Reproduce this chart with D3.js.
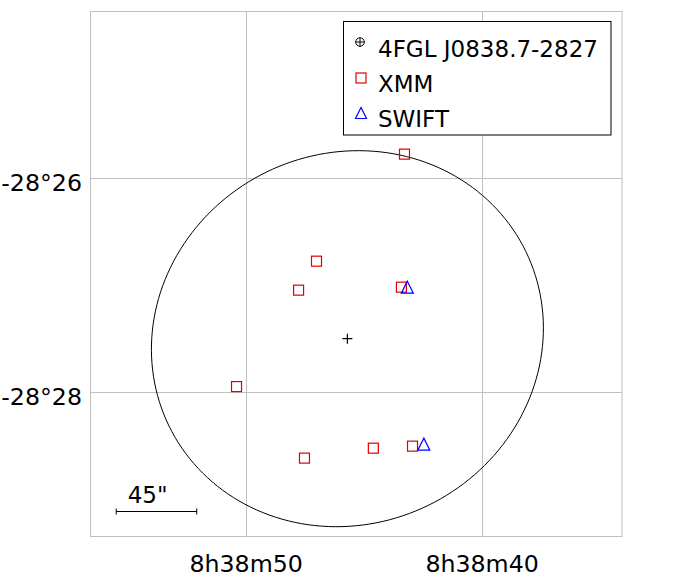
<!DOCTYPE html>
<html>
<head>
<meta charset="utf-8">
<script src="https://cdn.jsdelivr.net/npm/d3@7"></script>
<style>
  body { margin: 0; background: #fff; }
  svg { display: block; font-family: "DejaVu Sans", sans-serif; }
</style>
</head>
<body>
<div id="chart"></div>
<script>
// RA in seconds of 8h38m, Dec in arcmin south of -28 deg
var raDomain = [56.6, 34.07];
var decDomain = [24.44, 29.35];
var raTicks = [50, 40];
var raTickLabels = ["8h38m50", "8h38m40"];
var decTicks = [26, 28];
var decTickLabels = ["-28°26", "-28°28"];

// 4FGL source + 95% ellipse
var fglRa = [45.71];
var fglDec = [27.50];
var ellA = 1.852, ellB = 1.731, ellAngle = 28; // arcmin, deg

var xmmRa  = [47.02, 47.78, 43.42, 50.41, 47.53, 44.61, 42.95, 43.29];
var xmmDec = [26.775, 27.046, 27.018, 27.948, 28.617, 28.524, 28.505, 25.774];

var swiftRa  = [43.17, 42.47];
var swiftDec = [27.018, 28.486];

var legendLabels = ["4FGL J0838.7-2827", "XMM", "SWIFT"];
var scaleLabel = '45"';

var W = 681, H = 581;
var svg = d3.select("#chart").append("svg").attr("width", W).attr("height", H);

var x = d3.scaleLinear().domain(raDomain).range([90.5, 622]);
var y = d3.scaleLinear().domain(decDomain).range([11.5, 536.5]);

var cosd = Math.cos((28 + fglDec[0] / 60) * Math.PI / 180);

// grid
svg.append("g").selectAll("line").data(raTicks).enter().append("line")
  .attr("x1", function(d) { return Math.round(x(d)) + 0.5; })
  .attr("x2", function(d) { return Math.round(x(d)) + 0.5; })
  .attr("y1", y.range()[0]).attr("y2", y.range()[1])
  .attr("stroke", "#c0c0c0");
svg.append("g").selectAll("line").data(decTicks).enter().append("line")
  .attr("y1", function(d) { return Math.round(y(d)) + 0.5; })
  .attr("y2", function(d) { return Math.round(y(d)) + 0.5; })
  .attr("x1", x.range()[0]).attr("x2", x.range()[1])
  .attr("stroke", "#c0c0c0");

svg.append("rect")
  .attr("x", x.range()[0]).attr("y", y.range()[0])
  .attr("width", x.range()[1] - x.range()[0])
  .attr("height", y.range()[1] - y.range()[0])
  .attr("fill", "none").attr("stroke", "#c0c0c0");

// tick labels
svg.append("g").selectAll("text").data(raTicks).enter().append("text")
  .attr("x", function(d) { return x(d); })
  .attr("y", 572)
  .attr("text-anchor", "middle")
  .attr("font-size", 23.7)
  .text(function(d, i) { return raTickLabels[i]; });
svg.append("g").selectAll("text").data(decTicks).enter().append("text")
  .attr("x", 82)
  .attr("y", function(d) { return y(d) + 13; })
  .attr("text-anchor", "end")
  .attr("font-size", 23.7)
  .text(function(d, i) { return decTickLabels[i]; });

// ellipse
var phi = ellAngle * Math.PI / 180;
var ellPts = d3.range(0, 361, 2).map(function(t) {
  t = t * Math.PI / 180;
  var u = ellA * Math.cos(t), v = ellB * Math.sin(t);
  var west = u * Math.cos(phi) - v * Math.sin(phi);
  var north = u * Math.sin(phi) + v * Math.cos(phi);
  return [fglRa[0] - west * 60 / (15 * cosd), fglDec[0] - north];
});
svg.append("path")
  .attr("d", d3.line().x(function(d) { return x(d[0]); }).y(function(d) { return y(d[1]); })(ellPts))
  .attr("fill", "none").attr("stroke", "#000").attr("stroke-width", 1);

// 4FGL position
fglRa.forEach(function(ra, i) {
  var cx = x(ra), cy = y(fglDec[i]);
  svg.append("path")
    .attr("d", "M" + (cx - 5) + "," + cy + "H" + (cx + 5) + "M" + cx + "," + (cy - 5) + "V" + (cy + 5))
    .attr("stroke", "#000").attr("stroke-width", 1.2);
});

// XMM squares
svg.append("g").selectAll("rect").data(xmmRa).enter().append("rect")
  .attr("x", function(d) { return x(d) - 5; })
  .attr("y", function(d, i) { return y(xmmDec[i]) - 5; })
  .attr("width", 10).attr("height", 10)
  .attr("fill", "none").attr("stroke", "#e00000").attr("stroke-width", 1.2);

// SWIFT triangles
function tri(cx, cy, s) {
  return "M" + cx + "," + (cy - s) + "L" + (cx + s) + "," + (cy + s) + "L" + (cx - s) + "," + (cy + s) + "Z";
}
svg.append("g").selectAll("path").data(swiftRa).enter().append("path")
  .attr("d", function(d, i) { return tri(x(d), y(swiftDec[i]), 6); })
  .attr("fill", "none").attr("stroke", "#0000ff").attr("stroke-width", 1.2);

// scale bar 45"
var barRa0 = 55.51, barDec = 29.11;
var barRa1 = barRa0 - (45 / 60) * 60 / (15 * cosd);
var bx0 = x(barRa0), bx1 = x(barRa1), by = Math.round(y(barDec)) + 0.5;
svg.append("path")
  .attr("d", "M" + bx0 + "," + by + "H" + bx1 + "M" + bx0 + "," + (by - 3) + "V" + (by + 3) + "M" + bx1 + "," + (by - 3) + "V" + (by + 3))
  .attr("stroke", "#000").attr("fill", "none");
svg.append("text")
  .attr("x", bx0 + 11.5).attr("y", 503)
  .attr("font-size", 23)
  .text(scaleLabel);

// legend
var lg = svg.append("g");
lg.append("rect").attr("x", 343.5).attr("y", 21.5).attr("width", 267.5).attr("height", 113.5)
  .attr("fill", "#fff").attr("stroke", "#000");
var rowY = [42, 78, 113];
var textY = [57, 92, 127];
lg.selectAll("text").data(legendLabels).enter().append("text")
  .attr("x", 378).attr("y", function(d, i) { return textY[i]; })
  .attr("font-size", 23).text(function(d) { return d; });
// 4FGL legend: circle with plus
lg.append("circle").attr("cx", 360).attr("cy", rowY[0]).attr("r", 4.3)
  .attr("fill", "none").attr("stroke", "#000");
lg.append("path").attr("d", "M355.5," + rowY[0] + "H364.5M360," + (rowY[0] - 4.5) + "V" + (rowY[0] + 4.5))
  .attr("stroke", "#000");
lg.append("rect").attr("x", 356).attr("y", rowY[1] - 5).attr("width", 10).attr("height", 10)
  .attr("fill", "none").attr("stroke", "#e00000").attr("stroke-width", 1.2);
lg.append("path").attr("d", tri(361, rowY[2], 5.5))
  .attr("fill", "none").attr("stroke", "#0000ff").attr("stroke-width", 1.2);
</script>
</body>
</html>
